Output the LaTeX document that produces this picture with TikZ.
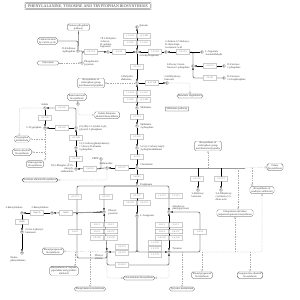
\documentclass[tikz,border=0pt]{standalone}
\usepackage{fontspec}
\setmainfont{Liberation Serif}
\usetikzlibrary{arrows.meta, positioning, backgrounds, calc}
\definecolor{kgrey}{HTML}{9A9A9A}
\definecolor{kink}{HTML}{3A3A3A}
\definecolor{kbox}{HTML}{6E6E6E}
\definecolor{kdash}{HTML}{ABABAB}
\tikzset{
  every picture/.style={line width=0.35pt, draw=kink},
  enz/.style={draw=kbox, line width=0.25pt, fill=white, rounded corners=0.2pt, text=kbox, inner sep=0pt, minimum width=0.68cm, minimum height=0.23cm, font=\fontsize{3.2}{3.6}\selectfont},
  cpd/.style={circle, draw=kink, line width=0.3pt, fill=white, inner sep=0pt, minimum size=0.14cm},
  pmap/.style={draw=kink, line width=0.3pt, fill=white, text=kink, rounded corners=2.5pt, align=center, inner xsep=2pt, inner ysep=1pt, font=\fontsize{3.8}{4.2}\selectfont},
  lab/.style={font=\fontsize{3.8}{4.2}\selectfont, text=kink, inner sep=0.5pt, align=left},
  rxn/.style={-{Latex[length=1.1mm, width=0.9mm]}},
  rxnb/.style={{Latex[length=1.1mm, width=0.9mm]}-{Latex[length=1.1mm, width=0.9mm]}},
  link/.style={draw=kdash, line width=0.25pt, dash pattern=on 2pt off 1.4pt, -{Triangle[open, length=1mm, width=1mm]}},
  hilite/.style={kgrey, line width=1.3pt},
  title/.style={draw=kink, double, double distance=0.7pt, line width=0.5pt, rounded corners=0.2pt, text=kink, inner xsep=4pt, inner ysep=1.6pt, font=\fontsize{5.6}{6}\selectfont},
}
\begin{document}
\begin{tikzpicture}[x=0.05cm, y=-0.05cm]
  \useasboundingbox (0,0) rectangle (300,300);
  \node[title] (ttl) at (88,6) {PHENYLALANINE, TYROSINE AND TRYPTOPHAN BIOSYNTHESIS};
  % ---------- pathway maps ----------
  \node[pmap] (ppp) at (78.5,27) {Pentose phosphate\\pathway};
  \node[pmap] (calvin) at (47.5,41) {Carbon fixation\\by Calvin cycle};
  \node[pmap, minimum width=1.1cm] (glyco) at (48,63) {Glycolysis};
  \node[pmap] (sidero1) at (91,83) {Biosynthesis of\\siderophore group\\nonribosomal peptides};
  \node[pmap] (benzoate) at (190,96) {Benzoate degradation};
  \node[pmap, rounded corners=0.2pt, inner ysep=1.2pt] (shikpw) at (177,109) {Shikimate pathway};
  \node[pmap] (benzox) at (77,97) {Benzoxazinoid\\biosynthesis};
  \node[pmap] (inddit) at (107,115) {Indole diterpene\\alkaloid biosynthesis};
  \node[pmap] (trpmet) at (22,139) {Tryptophan\\metabolism};
  \node[pmap] (indalk) at (22,152) {Indole alkaloid\\biosynthesis};
  \node[pmap] (stauro) at (35,164) {Staurosporine\\biosynthesis};
  \node[pmap] (acrid) at (40,180) {Acridone alkaloid biosynthesis};
  \node[pmap] (sidero2) at (208,146) {Biosynthesis of\\siderophore group\\nonribosomal peptides};
  \node[pmap] (folate) at (275,167) {Folate\\biosynthesis};
  \node[pmap] (enediyne) at (262,190) {Biosynthesis of\\enediyne antibiotics};
  \node[pmap] (ubiq) at (235,213) {Ubiquinone and other\\terpenoid-quinone biosynthesis};
  \node[pmap] (phprop1) at (53,251) {Phenylpropanoid\\biosynthesis};
  \node[pmap] (tropane) at (64,271) {Biosynthesis of tropane,\\piperidine and pyridine\\alkaloids};
  \node[pmap] (phemet) at (90,289) {Phenylalanine metabolism};
  \node[pmap] (glucos) at (139,278) {Glucosinolate biosynthesis};
  \node[pmap] (phprop2) at (202,275) {Phenylpropanoid\\biosynthesis};
  \node[pmap] (isoq) at (250,275) {Isoquinoline alkaloid\\biosynthesis};
  \node[pmap] (tyrmet) at (182,289) {Tyrosine metabolism};
  % ---------- compounds ----------
  \foreach \n/\x/\y in {e4p/78/51, pep/82/63, dahp/108/52, quin/137/27, dhq/137/52, adh/166/52,
      asa/202/52, dkfp/193/66, f1p/224/66, fbp/224/78, dhs/137/83, dhb/167/83, shik/137/108,
      s3p/137/126, epsp/137/148, chor/137/168, preph/137/186, anth/107/168, prpp/101/159,
      pra/76/169, cdrp/76/148, igp/76/128, ind/45/108, trp/45/128, bxi/78/104, ppy/104/212,
      hpp/169/212, arog/137/216, phe/107/252, tyr/169/252, hbz/198/190, chd/221/190,
      bzm3/22/213, bzm2/52/213, opb/22/232, hphe/22/253}
    \node[cpd] (\n) at (\x,\y) {};
  \node[lab, anchor=east] (l-e4p) at (76,50) {D-Erythrose\\4-phosphate};
  \node[lab, anchor=west] (l-pep) at (84,63) {Phosphoenol-\\pyruvate};
  \node[lab, anchor=south west] (l-dahp) at (100,49) {7P-2-Dehydro-\\3-deoxy-\\D-arabino-\\heptonate};
  \node[lab, anchor=west] (l-quin) at (139,26) {Quinate};
  \node[lab, anchor=north west] (l-dhq) at (139,54) {3-Dehydroquinate};
  \node[lab, anchor=south west] (l-adh) at (165,49) {2-Amino-3,7-dideoxy-\\D-threo-hept-\\6-ulosonic acid};
  \node[lab, anchor=west] (l-asa) at (205,53) {L-Aspartate\\4-semialdehyde};
  \node[lab, anchor=east] (l-dkfp) at (190,66) {6-Deoxy-5-keto-\\fructose 1-phosphate};
  \node[lab, anchor=west] (l-f1p) at (227,66) {D-Fructose\\1-phosphate};
  \node[lab, anchor=west] (l-fbp) at (227,78) {D-Fructose\\1,6-bisphosphate};
  \node[lab, anchor=south east] (l-dhs) at (134,81) {3-Dehydro-\\shikimate};
  \node[lab, anchor=south west] (l-dhb) at (164,81) {3,4-Dihydroxy-\\benzoate};
  \node[lab, anchor=west] (l-shik) at (140,108) {Shikimate};
  \node[lab, anchor=west] (l-s3p) at (140,126) {Shikimate\\3-phosphate};
  \node[lab, anchor=west] (l-epsp) at (140,148) {5-O-(1-Carboxyvinyl)-\\3-phosphoshikimate};
  \node[lab, anchor=south west] (l-chor) at (140,166) {Chorismate};
  \node[lab, anchor=west] (l-preph) at (140,185) {Prephenate};
  \node[lab, anchor=south] (l-anth) at (106,165) {Anthranilate};
  \node[lab, anchor=east] (l-prpp) at (99,159) {PRPP};
  \node[lab, anchor=east, align=right] (l-pra) at (74,168) {N-(5-Phospho-$\beta$-D-\\ribosyl)-\\anthranilate};
  \node[lab, anchor=west] (l-cdrp) at (79,147) {1-(2-Carboxyphenylamino)-\\1'-deoxy-D-ribulose\\5-phosphate};
  \node[lab, anchor=west] (l-igp) at (79,128) {(1S,2R)-1-C-(Indol-3-yl)-\\glycerol 3-phosphate};
  \node[lab, anchor=south] (l-ind) at (45,106) {Indole};
  \node[lab, anchor=east] (l-trp) at (42,128) {L-Tryptophan};
  \node[lab, anchor=west] (l-ppy) at (108,212) {Phenyl-\\pyruvate};
  \node[lab, anchor=south west] (l-hpp) at (172,211) {4-Hydroxy-\\phenylpyruvate};
  \node[lab, anchor=west] (l-arog) at (140,216) {L-Arogenate};
  \node[lab, anchor=north east] (l-phe) at (104,254) {Phenyl-\\alanine};
  \node[lab, anchor=south west] (l-tyr) at (172,251) {Tyrosine};
  \node[lab, anchor=north] (l-hbz) at (198,192) {3-Hydroxy-\\benzoate};
  \node[lab, anchor=north] (l-chd) at (224,192) {3,4-Dihydroxy-\\cyclohexa-1,5-\\diene acid};
  \node[lab, anchor=south] (l-bzm3) at (14,210) {3-Benzylmalate};
  \node[lab, anchor=south] (l-bzm2) at (40,210) {2-Benzylmalate};
  \node[lab, anchor=west] (l-opb) at (25,231) {2-Oxo-4-phenyl-\\butanoate};
  \node[lab, anchor=north] (l-hphe) at (18,256) {Homo-\\phenylalanine};
  % ---------- enzymes ----------
  \foreach \n/\x/\y/\ec in {e2551/91/52/2.5.1.54, e4234/119/52/4.2.3.4, q1/130/36/1.1.1.24,
      q2/144/36/1.1.1.282, q3/130/43/1.1.5.8, q4/144/43/1.1.1.25, e14124/155/52/1.4.1.24,
      e22110/183/52/2.2.1.10, e41213/210/66/4.1.2.13, e22111/210/78/2.2.1.11,
      e42110/137/67/4.2.1.10, e421118/152/83/4.2.1.118, s1/130/93/1.1.1.24, s2/144/93/1.1.1.25,
      s3/130/100/1.1.5.8, s4/144/100/1.1.1.282, e27171/137/117/2.7.1.71, e25119/137/137/2.5.1.19,
      e4235/137/157/4.2.3.5, e54995/137/177/5.4.99.5, e41327/122/168/4.1.3.27,
      e24218/90/169/2.4.2.18, e53124/76/159/5.3.1.24, e41148/76/138/4.1.1.48,
      t1/62/108/4.2.1.20, t2/45/118/4.2.1.20, t3/62/128/4.2.1.20,
      p1/75/197/4.2.1.51, p2/106/197/4.2.1.91, a1/137/196/2.6.1.57, a2/130/203/2.6.1.78,
      a3/144/203/2.6.1.79, h1/162/196/1.3.1.12, h2/176/196/1.3.1.13,
      g1/97/225/2.6.1.1, g2/111/225/2.6.1.5, g3/97/231.5/2.6.1.9, g4/111/231.5/2.6.1.57,
      g5/97/238/2.6.1.58, g6/111/238/1.4.1.20,
      k1/162/225/2.6.1.1, k2/176/225/2.6.1.5, k3/162/231.5/2.6.1.9, k4/176/231.5/2.6.1.57,
      k5/162/238/2.6.1.58, k6/176/238/1.4.1.20,
      o1/75/232/1.4.3.2, o2/200/232/1.4.3.2, r1/122/247/4.2.1.51, r2/122/253/4.2.1.91,
      r3/155/243/1.3.1.43, r4/155/249/1.3.1.78, r5/155/255/1.3.1.79, y1/122/265/1.14.16.1,
      hph1/37/213/HphCD, hph2/66/213/HphA, hph3/22/222/HphB, c1/197/179/4.1.3.45,
      c2/221/179/5.5.1.13}
    \node[enz] (\n) at (\x,\y) {\ec};
  % ---------- free ends ----------
  \coordinate (cend) at (245,168);
  \coordinate (ltop) at (77,212);
  \coordinate (lbot) at (77,258);
  \coordinate (rtop) at (200,212);
  \coordinate (rbot) at (200,252);
  \coordinate (tpa) at (75,252);
  \coordinate (uba) at (238,168);
  \coordinate (ena) at (252,168);
  % ---------- reactions ----------
  \begin{scope}[on background layer]
    \fill[white] (0,0) rectangle (300,300);
    \draw (ppp) -- (e4p);
    \draw[rounded corners=2pt] (calvin.east) -| (e4p);
    \draw[link] (glyco) -- (pep);
    \draw[rxn] (e4p) -- (dahp);
    \draw[rounded corners=2pt] (pep) |- (e2551.west);
    \draw[rxn] (dahp) -- (dhq);
    \draw[rxnb] (quin) -- (dhq);
    \draw[rxn] (adh) -- (dhq);
    \draw[rxn] (asa) -- (adh);
    \draw[rounded corners=2pt] (dkfp) |- (e22110.east);
    \draw[rxn] (f1p) -- (dkfp);
    \draw[rxn, rounded corners=2pt] (fbp) -| (dkfp);
    \draw[rxn] (dhq) -- (dhs);
    \draw[rxnb] (dhs) -- (shik);
    \draw[rxn] (dhs) -- (dhb);
    \draw[link, rounded corners=2pt] (dhb) -| (benzoate);
    \draw[link] (dhs) -- (sidero1);
    \draw[rxn] (shik) -- (s3p);
    \draw[rxn] (s3p) -- (epsp);
    \draw[rxn] (epsp) -- (chor);
    \draw[rxn] (chor) -- (preph);
    \draw[rxn] (chor) -- (anth);
    \draw[rxn] (anth) -- (pra);
    \draw[rounded corners=2pt] (prpp) |- (e24218.east);
    \draw[rxn] (pra) -- (cdrp);
    \draw[rxn] (cdrp) -- (igp);
    \draw[rxn, rounded corners=2pt] (igp) |- (ind);
    \draw[rxn] (ind) -- (trp);
    \draw[rxn] (igp) -- (trp);
    \draw[link] (bxi) -- (benzox);
    \draw[link, rounded corners=2pt] (bxi) |- (inddit.west);
    \draw[link, rounded corners=2pt] (ind) -| ([xshift=0.25cm]trpmet.north west);
    \draw[link] (trp) -- (trp |- stauro.north);
    \draw[link] (trp |- trpmet) -- (trpmet.east);
    \draw[link] (trp |- indalk) -- (indalk.east);
    \draw[link, rounded corners=2pt] (anth) |- (acrid);
    % chorismate branches
    \draw[hilite] (chor) -- (cend);
    \draw[link] (cend) -- (folate);
    \draw[link] (chor -| sidero2) -- (sidero2);
    \draw[rxn] (chor -| hbz) -- (hbz);
    \draw[rxn] (chor -| chd) -- (chd);
    \draw[link] (uba) -- (uba |- ubiq.north);
    \draw[link] (ena) -- (ena |- enediyne.north);
    % prephenate to aromatic amino acids
    \draw[rxn, rounded corners=2pt] (preph) -| (ppy);
    \draw[rxn, rounded corners=2pt] (preph) -| (hpp);
    \draw[rounded corners=2pt] (preph) -| (ltop);
    \draw[rxn] (ltop) -- (ppy);
    \draw[rxn] (preph) -- (arog);
    \draw[rxnb] (ppy) -- (phe);
    \draw[rxnb] (hpp) -- (tyr);
    \draw[rxn, rounded corners=2pt] (phe) |- (lbot) -- (ltop);
    \draw[rxn, rounded corners=2pt] (tyr) -| (rbot) -- (rtop) -- (hpp);
    \draw[rxn, rounded corners=2pt] (arog) |- (phe);
    \draw[rxn, rounded corners=2pt] (arog) |- (tyr);
    \draw[rxn, rounded corners=2pt] (phe) |- (y1) -| (tyr);
    \draw[rxn] (ppy) -- (bzm2);
    \draw[hilite] (ppy) -- (hph2);
    \draw[rxn] (bzm2) -- (bzm3);
    \draw[rxn] (bzm3) -- (opb);
    \draw[rxn] (opb) -- (hphe);
    % links out of phenylalanine and tyrosine
    \draw[link] (phe) -- (phprop1);
    \draw[link] (tpa) -- (tpa |- tropane.north);
    \draw[link] (phe -| phemet) -- (phemet);
    \draw[link, rounded corners=2pt] (phe) |- (glucos);
    \draw[link, rounded corners=2pt] (tyr) |- (glucos);
    \draw[link, rounded corners=2pt] (tyr) -| (enediyne);
    \draw[link] (tyr -| phprop2) -- (phprop2);
    \draw[link] (tyr -| isoq) -- (isoq);
    \draw[link] (tyr -| tyrmet) -- (tyrmet);
    \draw[link] (tyr -| ubiq) -- (ubiq);
  \end{scope}
\end{tikzpicture}
\end{document}
